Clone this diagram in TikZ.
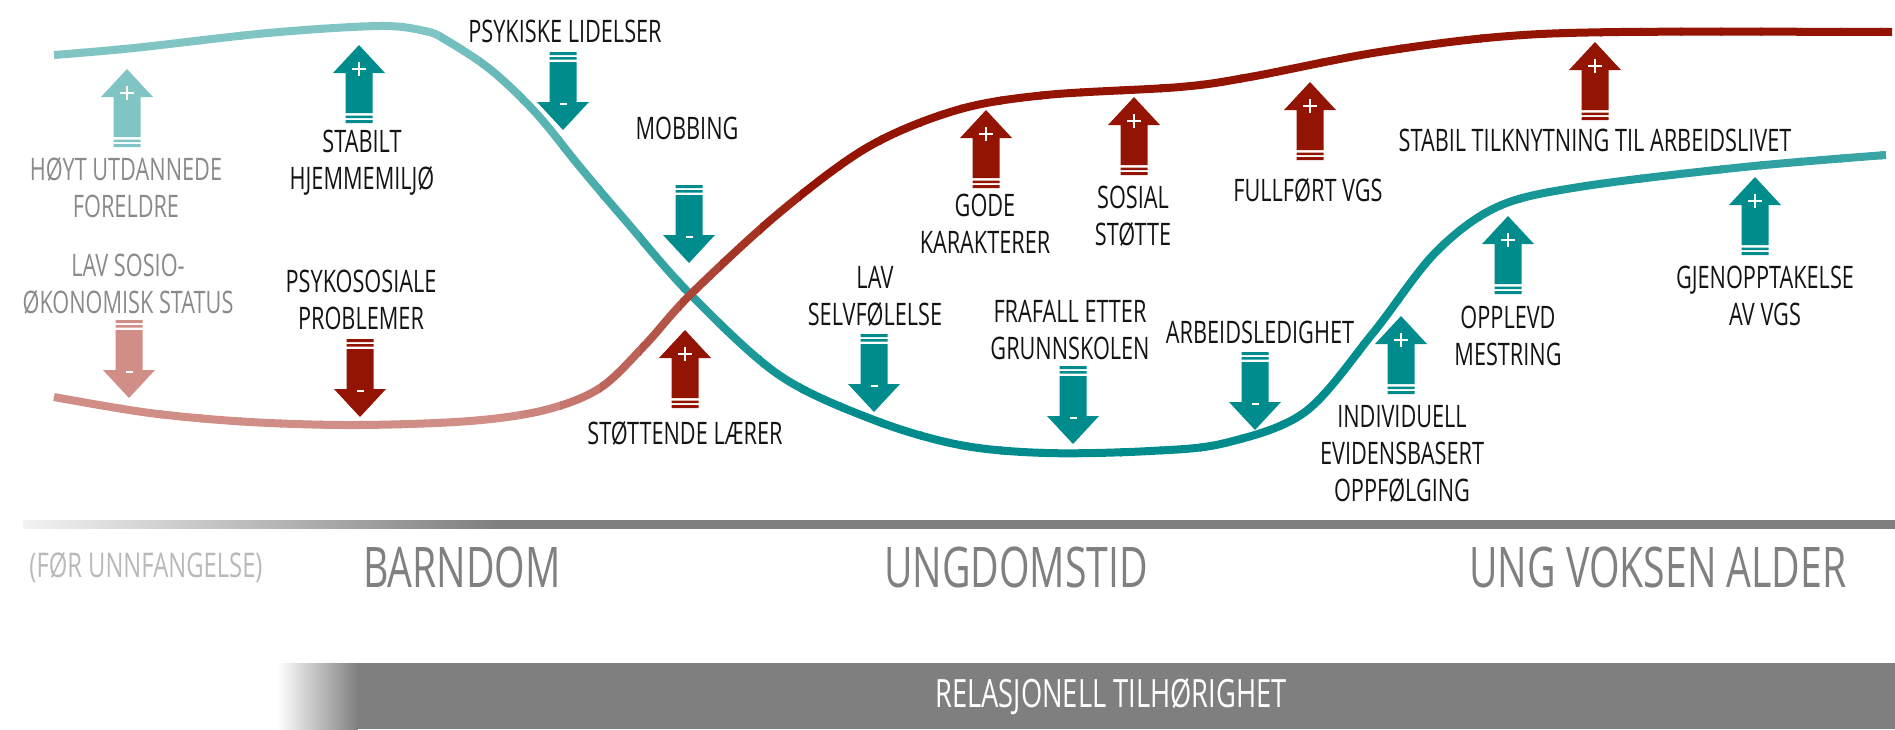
\documentclass[tikz,border=0pt]{standalone}
\usepackage{fontspec}
\setmainfont{Open Sans}[FakeStretch=0.7]
\definecolor{tealc}{RGB}{0,140,140}
\definecolor{ltealc}{RGB}{128,196,196}
\definecolor{redc}{RGB}{148,20,4}
\definecolor{lredc}{RGB}{208,142,134}
\definecolor{txtc}{RGB}{20,20,20}
\definecolor{fadedtxt}{RGB}{138,138,138}
\definecolor{agec}{RGB}{128,128,128}
\definecolor{barc}{RGB}{127,127,127}
\definecolor{barstart}{RGB}{242,242,242}
\pgfdeclarehorizontalshading{timefade}{100bp}{color(0bp)=(barstart); color(25bp)=(barstart); color(37.7bp)=(barc); color(100bp)=(barc)}
\begin{document}
\begin{tikzpicture}[x=1pt,y=-1pt,
    lbl/.style={inner sep=0pt,align=center,text=txtc,font=\fontsize{31}{37}\selectfont},
    fadedlbl/.style={lbl,text=fadedtxt},
    agelbl/.style={inner sep=0pt,text=agec,font=\fontsize{56}{60}\selectfont},
    pics/uparr/.style={code={
      \fill[#1] (0,-39) -- (26,-11) -- (13.5,-11) -- (13.5,29) -- (-13.5,29) -- (-13.5,-11) -- (-26,-11) -- cycle;
      \fill[#1] (-13.5,31.5) rectangle (13.5,34) (-13.5,36) rectangle (13.5,39);
      \draw[white,line width=2.5pt] (-7,-15) -- (7,-15) (0,-22) -- (0,-8);
    }},
    pics/downarr/.style={code={
      \fill[#1] (0,39) -- (26,11) -- (13.5,11) -- (13.5,-29) -- (-13.5,-29) -- (-13.5,11) -- (-26,11) -- cycle;
      \fill[#1] (-13.5,-31.5) rectangle (13.5,-34) (-13.5,-36) rectangle (13.5,-39);
      \fill[white] (-3.5,11.5) rectangle (3.5,14);
    }}]
    \useasboundingbox (0,0) rectangle (1895,729);

    % Teal curve (light on the left, full teal in the dip)
    \foreach \xa in {0,40,...,1880}{
      \pgfmathtruncatemacro\fadeT{max(0,min(100,(820-\xa)/4.2))+max(0,(\xa-1300)/12)}
      \begin{scope}
        \clip (\xa,0) rectangle (\xa+42,729);
        \draw[ltealc!\fadeT!tealc,line width=8pt] plot[smooth,tension=0.55] coordinates {
          (54,55) (134,48) (268,33) (379,26) (425,31) (446,40) (491,70) (536,113)
          (580,167) (625,220) (690,294) (779,375) (874,420) (960,445) (1046,453)
          (1150,451) (1225,443) (1305,412) (1373,333) (1435,253) (1497,207)
          (1579,187) (1744,167) (1886,155)};
      \end{scope}
    }

    % Red curve (light on the left, dark red after the crossing)
    \foreach \xa in {0,40,...,1880}{
      \pgfmathtruncatemacro\fadeR{max(0,min(100,(800-\xa)/3))}
      \begin{scope}
        \clip (\xa,0) rectangle (\xa+42,729);
        \draw[lredc!\fadeR!redc,line width=8pt] plot[smooth,tension=0.55] coordinates {
          (54,397) (150,413) (250,422) (357,425) (470,421) (545,410) (600,388)
          (645,345) (690,295) (779,213) (868,147) (957,110) (1046,95) (1180,87)
          (1250,77) (1373,53) (1497,37) (1620,32) (1892,32)};
      \end{scope}
    }

    % Arrows
    \pic at (127,108) {uparr=ltealc};
    \pic at (129,359) {downarr=lredc};
    \pic at (359,84) {uparr=tealc};
    \pic at (360,378) {downarr=redc};
    \pic at (563,91) {downarr=tealc};
    \pic at (689,224) {downarr=tealc};
    \pic at (685,369) {uparr=redc};
    \pic at (874,373) {downarr=tealc};
    \pic at (986,149) {uparr=redc};
    \pic at (1134,136) {uparr=redc};
    \pic at (1310,121) {uparr=redc};
    \pic at (1073,405) {downarr=tealc};
    \pic at (1255,391) {downarr=tealc};
    \pic at (1401,355) {uparr=tealc};
    \pic at (1508,255) {uparr=tealc};
    \pic at (1595,81) {uparr=redc};
    \pic at (1755,216) {uparr=tealc};

    % Labels
    \node[fadedlbl] (hoyt) at (126,188) {HØYT UTDANNEDE\\FORELDRE};
    \node[fadedlbl] (lavses) at (128,284) {LAV SOSIO-\\ØKONOMISK STATUS};
    \node[lbl] (stabilt) at (362,163) {STABILT\\HJEMMEMILJØ};
    \node[lbl] (psykos) at (361,300) {PSYKOSOSIALE\\PROBLEMER};
    \node[lbl] (psykisk) at (565,31) {PSYKISKE LIDELSER};
    \node[lbl] (mobbing) at (687,128) {MOBBING};
    \node[lbl] (laerer) at (685,433) {STØTTENDE LÆRER};
    \node[lbl] (selvf) at (875,296) {LAV\\SELVFØLELSE};
    \node[lbl] (gode) at (985,224) {GODE\\KARAKTERER};
    \node[lbl] (sosial) at (1133,216) {SOSIAL\\STØTTE};
    \node[lbl] (fullf) at (1308,190) {FULLFØRT VGS};
    \node[lbl] (frafall) at (1070,330) {FRAFALL ETTER\\GRUNNSKOLEN};
    \node[lbl] (ledig) at (1260,332) {ARBEIDSLEDIGHET};
    \node[lbl] (individ) at (1402,454) {INDIVIDUELL\\EVIDENSBASERT\\OPPFØLGING};
    \node[lbl] (mestring) at (1508,336) {OPPLEVD\\MESTRING};
    \node[lbl] (arbliv) at (1595,140) {STABIL TILKNYTNING TIL ARBEIDSLIVET};
    \node[lbl] (gjenopp) at (1765,296) {GJENOPPTAKELSE\\AV VGS};

    % Time line
    \shade[shading=timefade] (23,520) rectangle (1895,528);
    \node[inner sep=0pt,text=gray!55,font=\fontsize{34}{40}\selectfont] (foer) at (146,568) {(FØR UNNFANGELSE)};
    \node[agelbl] (barndom) at (462,567) {BARNDOM};
    \node[agelbl] (ungdom) at (1016,567) {UNGDOMSTID};
    \node[agelbl] (voksen) at (1658,567) {UNG VOKSEN ALDER};

    % Belonging bar
    \shade[left color=white,right color=barc] (277,663) rectangle (358,729);
    \fill[barc] (357,663) rectangle (1895,729);
    \node[inner sep=0pt,text=white,font=\fontsize{39}{44}\selectfont] (tilhor) at (1111,697) {RELASJONELL TILHØRIGHET};
\end{tikzpicture}
\end{document}
